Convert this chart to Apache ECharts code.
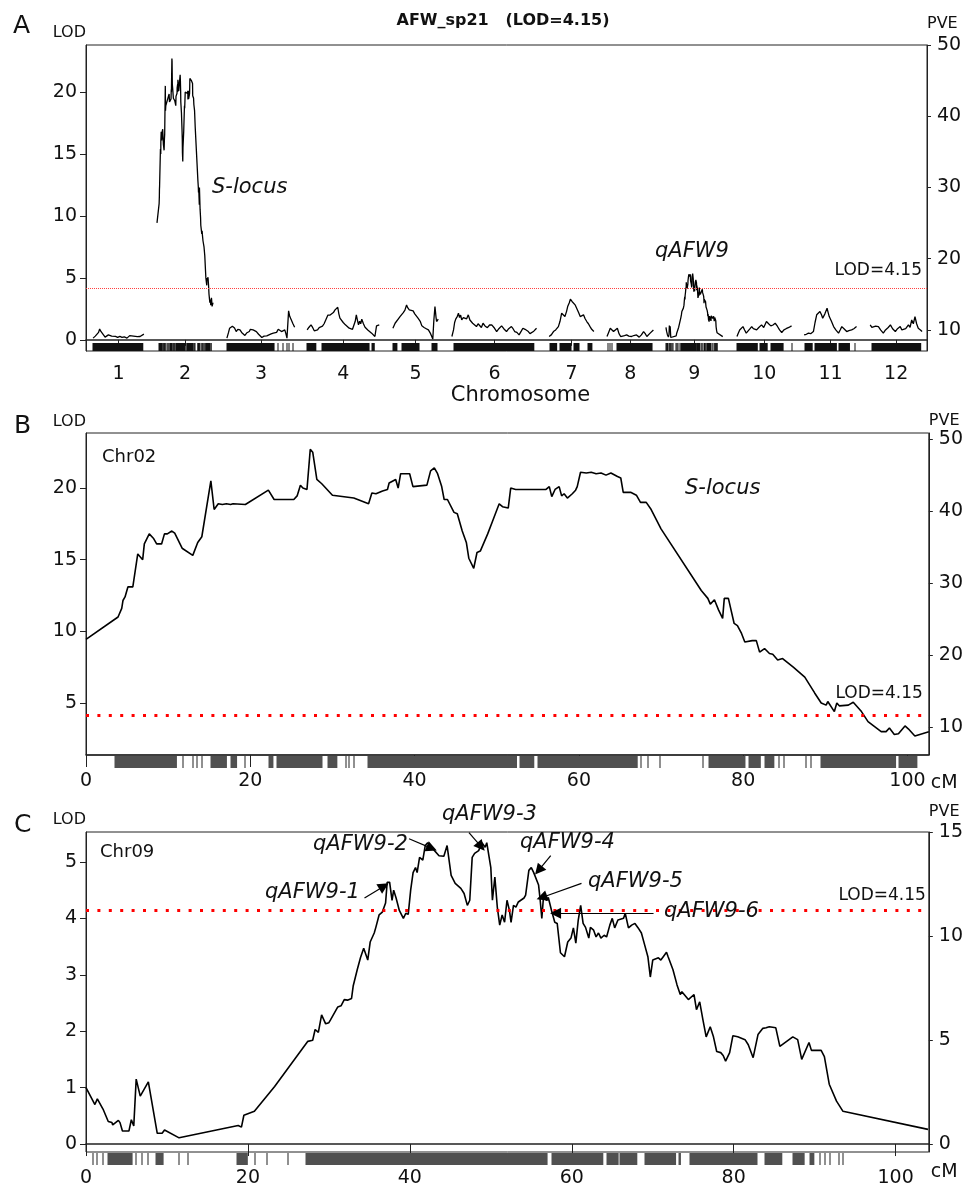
<!DOCTYPE html>
<html>
<head>
<meta charset="utf-8">
<script src="https://cdn.jsdelivr.net/npm/echarts@6/dist/echarts.min.js"></script>
<style>
html, body { margin: 0; background: #fff; }
#main { width: 966px; height: 1188px; }
</style>
</head>
<body>
<div id="main"></div>
<script>
var FONT = 'DejaVu Sans';

// ---------- panel B: Chr02 LOD profile [cM, LOD] ----------
var lodChr02 = [[0,9.44],[3.9,11.0],[4.35,11.6],[4.5,12.15],[4.75,12.4],[5.1,13.1],[5.7,13.1],[6.3,15.4],[6.9,15.0],[7.1,16.1],[7.2,16.2],[7.7,16.8],[8.2,16.5],[8.6,16.1],[9.2,16.1],[9.55,16.8],[9.9,16.8],[10.45,17.0],[10.8,16.85],[11.7,15.8],[13.0,15.3],[13.6,16.2],[14.1,16.6],[15.2,20.5],[15.6,18.5],[16.1,18.9],[16.6,18.85],[17.1,18.9],[17.6,18.85],[17.9,18.9],[19.4,18.85],[22.2,19.85],[22.9,19.2],[25.3,19.2],[25.7,19.45],[26.1,20.2],[26.4,20.0],[26.9,19.9],[27.3,22.7],[27.6,22.5],[28.1,20.6],[28.7,20.3],[30.0,19.5],[32.6,19.3],[34.4,18.9],[34.8,19.65],[35.3,19.6],[36.1,19.8],[36.7,19.9],[36.9,20.35],[37.7,20.6],[38.0,20.0],[38.3,21.0],[39.4,21.0],[39.8,20.1],[41.5,20.2],[41.95,21.2],[42.4,21.4],[42.8,21.0],[43.3,20.1],[43.6,19.2],[44.0,19.2],[44.8,18.3],[45.2,18.2],[45.8,17.0],[46.3,16.2],[46.6,15.1],[47.2,14.4],[47.6,15.5],[48.0,15.6],[48.9,16.8],[49.5,17.7],[50.3,18.9],[50.7,18.7],[51.4,18.6],[51.7,20.0],[52.3,19.9],[56.0,19.9],[56.4,20.1],[56.7,19.4],[57.1,19.9],[57.6,20.1],[57.9,19.45],[58.2,19.6],[58.6,19.3],[59.2,19.6],[59.6,19.85],[59.8,20.1],[60.2,21.1],[60.9,21.05],[61.5,21.1],[62.1,21.0],[62.7,21.05],[63.3,20.9],[63.9,21.05],[64.7,20.8],[65.1,20.7],[65.4,19.7],[66.3,19.7],[67.0,19.5],[67.5,19.0],[68.2,19.0],[68.8,18.5],[70.0,17.15],[74.9,12.85],[75.7,12.3],[76.0,11.9],[76.5,12.2],[77.0,11.5],[77.5,10.9],[77.7,12.3],[78.2,12.3],[78.9,10.55],[79.3,10.4],[79.8,9.85],[80.2,9.25],[81.1,9.35],[81.6,9.35],[82.0,8.55],[82.6,8.8],[83.2,8.45],[83.6,8.4],[84.2,8.0],[84.8,8.1],[86.1,7.5],[87.5,6.8],[88.7,5.7],[89.5,5.0],[90.1,4.85],[90.3,5.1],[91.1,4.4],[91.4,5.0],[91.7,4.8],[92.8,4.85],[93.4,5.05],[94.4,4.4],[95.2,3.7],[96.0,3.35],[96.8,3.0],[97.4,3.0],[97.8,3.25],[98.4,2.8],[98.9,2.85],[99.7,3.4],[100.1,3.2],[100.9,2.7],[102.6,3.0]];

// markers on Chr02 [from cM, to cM]
var rugChr02 = [[3.5,11.1],[11.8,11.8],[13.0,13.0],[13.5,13.5],[14.1,14.1],[15.2,17.2],[17.6,18.4],[19.4,19.4],[22.3,22.9],[23.3,28.9],[29.4,30.6],[31.7,31.7],[32.0,32.0],[32.6,32.6],[34.3,52.5],[52.8,54.6],[55.0,67.2],[67.6,67.6],[68.4,68.4],[69.9,69.9],[75.1,75.1],[75.9,80.4],[80.7,82.2],[82.6,83.8],[84.4,84.4],[85.0,85.0],[87.7,87.7],[88.3,88.3],[89.5,98.7],[99.0,101.3]];

// ---------- panel C: Chr09 LOD profile [cM, LOD] ----------
var lodChr09 = [[0,1.0],[1.1,0.7],[1.4,0.8],[2.1,0.62],[2.75,0.4],[3.2,0.38],[3.3,0.34],[4.0,0.42],[4.2,0.38],[4.5,0.23],[5.3,0.23],[5.6,0.43],[5.9,0.32],[6.2,1.15],[6.7,0.85],[7.7,1.1],[8.8,0.19],[9.4,0.19],[9.7,0.25],[11.5,0.11],[18.8,0.33],[19.2,0.30],[19.5,0.51],[20.8,0.58],[23.3,1.02],[27.4,1.82],[28.0,1.84],[28.3,2.03],[28.7,1.98],[29.1,2.29],[29.2,2.29],[29.6,2.13],[30.0,2.15],[30.2,2.2],[30.4,2.18],[31.1,2.43],[31.5,2.45],[31.9,2.56],[32.3,2.55],[32.8,2.58],[33.0,2.8],[33.5,3.09],[33.9,3.3],[34.3,3.47],[34.4,3.44],[34.8,3.26],[35.1,3.58],[35.2,3.55],[35.6,3.74],[35.8,3.84],[36.2,4.06],[36.6,4.11],[37.0,4.27],[37.2,4.64],[37.5,4.64],[37.8,4.32],[38.0,4.5],[38.3,4.36],[38.7,4.14],[39.2,4.0],[39.5,4.09],[39.8,4.07],[40.1,4.5],[40.4,4.81],[40.7,4.9],[40.9,4.81],[41.2,5.08],[41.3,5.1],[41.6,5.03],[41.9,5.29],[42.2,5.34],[42.8,5.24],[43.6,5.11],[44.2,5.1],[44.6,5.29],[44.8,5.28],[45.1,4.76],[45.6,4.62],[46.3,4.53],[46.7,4.44],[47.1,4.23],[47.4,4.32],[47.7,5.08],[48.0,5.15],[48.5,5.2],[48.9,5.34],[49.3,5.26],[49.5,5.34],[50.0,4.9],[50.2,4.32],[50.5,4.73],[50.8,4.2],[51.1,3.88],[51.4,4.06],[51.7,3.93],[52.0,4.32],[52.3,4.14],[52.5,3.93],[52.8,4.23],[53.1,4.2],[53.4,4.29],[54.1,4.36],[54.3,4.41],[54.7,4.85],[55.0,4.9],[55.3,4.81],[55.5,4.84],[55.9,4.59],[56.1,4.32],[56.3,4.0],[56.5,4.37],[56.9,4.32],[57.1,4.37],[57.5,4.14],[57.9,3.93],[58.2,3.91],[58.6,3.39],[59.1,3.32],[59.5,3.58],[59.9,3.65],[60.2,3.83],[60.5,3.56],[60.8,3.97],[61.1,4.23],[61.4,3.91],[61.7,3.84],[62.1,3.65],[62.3,3.84],[62.7,3.79],[63.0,3.67],[63.3,3.74],[63.6,3.65],[64.0,3.7],[64.3,3.67],[64.7,3.88],[65.0,4.0],[65.3,3.83],[65.7,3.97],[65.9,3.95],[66.4,4.0],[66.6,4.09],[67.0,3.83],[67.4,3.88],[67.8,3.91],[68.2,3.83],[68.6,3.74],[69.0,3.53],[69.4,3.32],[69.7,2.96],[70.0,3.26],[70.2,3.23],[70.7,3.3],[71.0,3.26],[71.3,3.32],[71.7,3.4],[71.9,3.32],[72.5,3.09],[73.0,2.82],[73.4,2.65],[73.6,2.7],[74.4,2.56],[75.1,2.65],[75.4,2.38],[75.8,2.52],[76.2,2.2],[76.6,1.9],[77.1,2.08],[77.5,1.9],[77.9,1.64],[78.4,1.62],[78.7,1.57],[79.0,1.47],[79.5,1.62],[79.9,1.92],[80.5,1.9],[81.4,1.85],[81.8,1.76],[82.4,1.53],[83.0,1.94],[83.6,2.05],[84.0,2.06],[84.4,2.08],[85.2,2.06],[85.7,1.73],[85.9,1.74],[87.3,1.9],[87.9,1.85],[88.4,1.5],[89.3,1.8],[89.6,1.66],[90.8,1.66],[91.2,1.55],[91.8,1.06],[92.7,0.76],[93.5,0.58],[104.0,0.26]];

var rugChr09 = [[0.9,0.9],[1.3,1.3],[2.1,2.1],[2.7,5.8],[6.2,6.2],[6.9,6.9],[7.6,7.6],[8.7,9.7],[11.5,11.5],[12.6,12.6],[18.6,20.0],[20.9,20.9],[22.3,22.3],[24.9,24.9],[27.2,57.1],[57.5,63.9],[64.3,65.8],[66.0,68.2],[69.0,72.9],[73.2,73.5],[74.6,83.0],[83.9,86.1],[87.3,88.8],[89.4,90.0],[90.6,90.6],[91.3,91.3],[91.9,91.9],[93.0,93.0],[93.5,93.5]];

// QTL arrows on Chr09: name, arrow tail [cM, LOD], arrow head [cM, LOD]
var qtlNames = ['qAFW9-1', 'qAFW9-2', 'qAFW9-3', 'qAFW9-4', 'qAFW9-5', 'qAFW9-6'];
var qtlTail = [[34.4, 4.36], [39.9, 5.41], [47.3, 5.52], [57.4, 5.11], [61.2, 4.62], [70.1, 4.09]];
var qtlHead = [[36.8, 4.57], [42.7, 5.24], [48.8, 5.27], [55.9, 4.85], [56.3, 4.37], [58.0, 4.09]];

// ---------- panel A: genome scan ----------
var chrNames = ['1','2','3','4','5','6','7','8','9','10','11','12'];
var chrStart = [13, 130, 258, 405, 562, 670, 848, 954, 1062, 1192, 1315, 1436];
var chrLen = [93, 103, 125, 132, 83, 156, 82, 85, 104, 100, 97, 95];

var lodChr1 = [[0,0.14],[4,0.3],[7,0.45],[10,0.6],[12,0.88],[14,0.7],[16,0.66],[19,0.4],[22,0.22],[25,0.3],[28,0.4],[31,0.25],[34,0.3],[37,0.2],[41,0.28],[45,0.2],[49,0.28],[53,0.2],[57,0.25],[62,0.14],[65,0.25],[67,0.34],[70,0.28],[74,0.3],[77,0.2],[81,0.26],[86,0.27],[89,0.38],[93,0.46]];
var lodChr3 = [[0,0.14],[3,0.6],[5,0.94],[8,0.8],[10,1.1],[12,1.26],[14,0.95],[17,0.67],[20,0.85],[24,0.8],[27,0.6],[30,0.5],[33,0.35],[36,0.55],[38,0.45],[41,0.67],[43,0.85],[45,0.99],[48,0.8],[51,0.75],[54,0.67],[58,0.45],[61,0.3],[64,0.19],[68,0.3],[71,0.25],[73,0.32],[77,0.4],[81,0.48],[85,0.54],[88,0.7],[91,0.6],[94,0.86],[97,0.8],[100,0.67],[103,0.75],[106,0.8],[108,0.5],[110,0.14],[113,2.34],[115,1.9],[117,1.75],[121,1.3],[124,1.02]];
var lodChr4 = [[0,0.8],[3,1.0],[5,0.9],[7,1.21],[10,1.0],[13,0.73],[16,0.85],[19,0.8],[22,0.99],[25,0.96],[28,1.1],[31,1.3],[34,1.6],[36,1.56],[38,2.0],[39,2.15],[42,2.0],[45,2.02],[48,2.2],[51,2.42],[54,2.3],[56,2.63],[58,2.1],[60,1.75],[63,1.6],[66,1.4],[70,1.21],[73,1.1],[77,0.94],[80,0.9],[83,0.85],[85,0.75],[88,1.5],[90,2.02],[92,1.6],[94,1.21],[96,1.5],[98,1.3],[100,1.67],[103,1.3],[106,1.02],[108,1.05],[111,0.8],[114,0.65],[118,0.54],[121,0.45],[124,0.27],[127,1.13],[130,1.2],[132,1.21]];
var lodChr5 = [[0,0.94],[2,0.8],[4,1.34],[7,1.4],[10,1.7],[13,1.88],[16,1.8],[19,2.2],[22,2.4],[25,2.82],[27,2.6],[30,2.42],[33,2.5],[37,2.34],[40,2.1],[43,2.0],[46,1.75],[50,1.5],[53,1.13],[57,1.0],[61,0.9],[65,0.8],[69,0.5],[73,0.06],[75,1.6],[77,2.69],[79,1.8],[80,1.48],[83,1.67]];
var lodChr6 = [[0,0.27],[3,0.8],[5,1.4],[7,1.67],[10,1.9],[12,2.15],[14,1.8],[16,2.0],[18,1.61],[21,1.8],[24,1.88],[27,1.7],[30,2.02],[33,1.6],[35,1.7],[38,1.34],[41,1.2],[45,1.07],[48,1.3],[51,1.21],[54,1.0],[57,1.34],[61,1.1],[65,0.99],[69,1.2],[73,1.21],[77,1.0],[82,0.67],[86,0.9],[91,1.13],[95,0.9],[100,0.67],[104,0.9],[109,1.07],[112,0.9],[115,0.67],[119,0.6],[123,0.4],[127,0.7],[130,0.94],[134,0.85],[137,0.7],[140,0.67],[143,0.5],[146,0.4],[150,0.7],[155,0.94]];
var lodChr7 = [[0,0.27],[4,0.4],[8,0.67],[12,0.8],[17,1.07],[20,1.5],[23,2.15],[26,2.0],[29,1.88],[32,2.3],[34,2.69],[37,3.0],[39,3.28],[42,3.1],[45,2.96],[48,2.8],[51,2.69],[54,2.2],[57,1.88],[60,2.0],[63,2.02],[66,1.7],[69,1.48],[72,1.3],[75,1.07],[78,0.85],[82,0.67]];
var lodChr8 = [[0,0.27],[3,0.6],[6,0.94],[9,0.8],[12,0.67],[15,0.8],[19,0.94],[22,0.5],[25,0.27],[28,0.4],[32,0.35],[36,0.4],[40,0.3],[45,0.27],[49,0.35],[54,0.4],[57,0.3],[59,0.22],[63,0.4],[67,0.67],[70,0.5],[73,0.27],[76,0.4],[79,0.54],[82,0.65],[85,0.8]];
var lodChr10 = [[0,0.27],[2,0.5],[5,0.8],[8,0.9],[11,1.07],[14,0.8],[17,0.54],[20,0.7],[24,0.9],[27,1.07],[30,0.9],[33,0.95],[36,0.8],[40,1.0],[45,1.21],[49,1.0],[54,1.48],[58,1.3],[62,1.13],[66,1.2],[70,1.34],[74,1.1],[78,0.8],[82,0.59],[86,0.8],[90,0.9],[95,1.0],[100,1.13]];
var lodChr11 = [[0,0.4],[4,0.45],[8,0.54],[12,0.5],[17,0.67],[20,1.4],[23,2.02],[26,1.9],[29,2.29],[32,2.0],[34,1.75],[38,2.1],[42,2.55],[44,2.2],[46,1.88],[50,1.5],[54,1.07],[58,0.8],[63,0.54],[66,0.8],[69,1.07],[73,0.9],[78,0.67],[82,0.75],[87,0.8],[91,0.9],[96,1.07]];
var lodChr12 = [[0,1.21],[3,1.0],[6,0.94],[10,1.1],[15,1.07],[19,0.8],[24,0.54],[28,0.8],[33,1.0],[37,1.21],[41,0.9],[46,0.67],[50,0.9],[55,1.07],[58,0.8],[61,0.67],[65,0.9],[70,1.21],[73,1.0],[76,1.61],[79,1.3],[82,1.88],[85,1.3],[88,0.94],[92,0.8],[95,0.67]];

var rugChr1 = [[0,93]];
var rugChr3 = [[0,88],[93,93],[103,103],[110,110],[114,114],[121,121]];
var rugChr4 = [[0,18],[27,115],[119,125]];
var rugChr5 = [[0,9],[16,49],[71,82]];
var rugChr6 = [[4,152]];
var rugChr7 = [[2,16],[20,42],[46,57],[71,80]];
var rugChr8 = [[1,1],[5,5],[9,9],[18,84]];
var rugChr10 = [[0,39],[42,57],[62,86],[100,100]];
var rugChr11 = [[2,17],[20,61],[64,85],[94,94]];
var rugChr12 = [[4,95]];

var lodGenome = [lodChr1, lodChr02, lodChr3, lodChr4, lodChr5, lodChr6, lodChr7, lodChr8, lodChr09, lodChr10, lodChr11, lodChr12];
var rugGenome = [rugChr1, rugChr02, rugChr3, rugChr4, rugChr5, rugChr6, rugChr7, rugChr8, rugChr09, rugChr10, rugChr11, rugChr12];

var threshold = 4.15;

// tick values
var lodTicksA = [0, 5, 10, 15, 20];
var pveTicksA = [10, 20, 30, 40, 50];
var lodTicksB = [5, 10, 15, 20];
var pveTicksB = [10, 20, 30, 40, 50];
var lodTicksC = [0, 1, 2, 3, 4, 5];
var pveTicksC = [0, 5, 10, 15];
var cmTicks = [0, 20, 40, 60, 80, 100];

var chrMid = chrStart.map(function (s, i) { return s + chrLen[i] / 2; });

var chart = echarts.init(document.getElementById('main'));

function numLabel(extra) {
    var o = { color: '#111', fontFamily: FONT, fontSize: 19 };
    for (var k in extra) o[k] = extra[k];
    return o;
}

function leftAxis(grid, min, max, ticks, gap) {
    return {
        type: 'value', gridIndex: grid, position: 'left', min: min, max: max,
        name: 'LOD', nameLocation: 'end', nameGap: gap,
        nameTextStyle: { color: '#111', fontFamily: FONT, fontSize: 16, align: 'right', verticalAlign: 'middle' },
        axisLine: { show: true, lineStyle: { color: '#222', width: 1 } },
        axisTick: { show: true, length: 6, customValues: ticks, lineStyle: { color: '#222' } },
        axisLabel: numLabel({ margin: 9, customValues: ticks }),
        splitLine: { show: false }
    };
}

function rightAxis(grid, min, max, ticks, gap) {
    return {
        type: 'value', gridIndex: grid, position: 'right', min: min, max: max,
        name: 'PVE', nameLocation: 'end', nameGap: gap,
        nameTextStyle: { color: '#111', fontFamily: FONT, fontSize: 16, align: 'left', verticalAlign: 'middle' },
        axisLine: { show: true, lineStyle: { color: '#222', width: 1 } },
        axisTick: { show: true, length: 4, customValues: ticks, lineStyle: { color: '#222' } },
        axisLabel: numLabel({ margin: 10, customValues: ticks }),
        splitLine: { show: false }
    };
}

function cmAxis(grid, max) {
    return {
        type: 'value', gridIndex: grid, min: 0, max: max,
        name: 'cM', nameLocation: 'end', nameGap: 2,
        nameTextStyle: { color: '#111', fontFamily: FONT, fontSize: 19, align: 'left', verticalAlign: 'top', padding: [19, 0, 0, 0] },
        axisLine: { show: true, lineStyle: { color: '#222', width: 1.5 } },
        axisTick: { show: true, length: 12, customValues: cmTicks, lineStyle: { color: '#222' } },
        axisLabel: numLabel({ margin: 17, customValues: cmTicks }),
        splitLine: { show: false }
    };
}

// marker rug drawn as thin rectangles under (or on) the x axis
function rugSeries(xi, yi, data, inside) {
    return {
        type: 'custom', xAxisIndex: xi, yAxisIndex: yi, silent: true, clip: false, z: 1,
        data: data,
        renderItem: function (params, api) {
            var cs = params.coordSys;
            var a = api.value(0), b = api.value(1);
            var x1 = api.coord([a, 0])[0];
            var x2 = api.coord([b, 0])[0];
            var base = cs.y + cs.height;
            var single = (b - a) < 0.01;
            return {
                type: 'rect',
                shape: { x: Math.round(x1) - 0.5, y: inside ? base - 8 : base + 1, width: Math.max(1, x2 - x1), height: inside ? 8 : 12 },
                style: { fill: inside ? '#111' : (single ? '#222' : '#505050') }
            };
        }
    };
}

function thresholdLine(width, dash, color, dist) {
    return {
        silent: true, symbol: 'none',
        data: [{ yAxis: threshold }],
        lineStyle: { color: color, width: width, type: dash },
        label: {
            show: true, position: 'insideEndTop', formatter: 'LOD=4.15', distance: dist,
            color: '#111', fontFamily: FONT, fontSize: 17
        }
    };
}

var series = [];

// panel A lines, one per chromosome
lodGenome.forEach(function (prof, i) {
    var s = {
        type: 'line', xAxisIndex: 0, yAxisIndex: 0, silent: true, z: 3,
        symbol: 'none', showSymbol: false,
        lineStyle: { color: '#000', width: 1.3 },
        data: prof.map(function (p) { return [chrStart[i] + p[0], p[1]]; })
    };
    if (i === 0) s.markLine = thresholdLine(1, [1, 1], '#ff4040', [5, 9]);
    series.push(s);
});

var rugA = [];
rugGenome.forEach(function (r, i) {
    r.forEach(function (p) { rugA.push([chrStart[i] + p[0], chrStart[i] + p[1]]); });
});
series.push(rugSeries(0, 0, rugA, true));

// panel B
series.push({
    type: 'line', xAxisIndex: 1, yAxisIndex: 2, silent: true, z: 3,
    symbol: 'none', showSymbol: false,
    lineStyle: { color: '#000', width: 1.6 },
    data: lodChr02,
    markLine: thresholdLine(3, [3, 8.4], '#ff0000', [6, 13])
});
series.push(rugSeries(1, 2, rugChr02, false));

// panel C
series.push({
    type: 'line', xAxisIndex: 2, yAxisIndex: 4, silent: true, z: 3,
    symbol: 'none', showSymbol: false,
    lineStyle: { color: '#000', width: 1.6 },
    data: lodChr09,
    markLine: thresholdLine(3, [3, 8.4], '#ff0000', [3, 6])
});
series.push(rugSeries(2, 4, rugChr09, false));

// QTL arrows
series.push({
    type: 'line', xAxisIndex: 2, yAxisIndex: 4, silent: true, clip: false, z: 5,
    data: [],
    markLine: {
        silent: true, symbol: ['none', 'triangle'], symbolSize: 11,
        lineStyle: { color: '#000', width: 1.2, type: 'solid' },
        label: { show: false },
        data: qtlNames.map(function (n, i) {
            return [{ coord: qtlTail[i] }, { coord: qtlHead[i] }];
        })
    }
});

function txt(x, y, s, font, align) {
    return {
        type: 'text', x: x, y: y, silent: true, z: 10,
        style: { text: s, fill: '#111', font: font, align: align || 'left', verticalAlign: 'middle' }
    };
}
var ital = 'italic 21px "DejaVu Sans"';
var qtlLabelPos = [[265, 893], [313, 845], [442, 815], [520, 843], [588, 882], [664, 912]];

var graphics = [
    txt(13, 26, 'A', '25px "DejaVu Sans"'),
    txt(14, 426, 'B', '25px "DejaVu Sans"'),
    txt(14, 825, 'C', '25px "DejaVu Sans"'),
    txt(503, 21, 'AFW_sp21   (LOD=4.15)', 'bold 16px "DejaVu Sans"', 'center'),
    txt(212, 188, 'S-locus', ital),
    txt(655, 252, 'qAFW9', ital),
    txt(685, 489, 'S-locus', ital),
    txt(102, 457, 'Chr02', '18px "DejaVu Sans"'),
    txt(100, 852, 'Chr09', '18px "DejaVu Sans"')
];
qtlNames.forEach(function (n, i) {
    graphics.push(txt(qtlLabelPos[i][0], qtlLabelPos[i][1], n, ital));
});

var option = {
    animation: false,
    backgroundColor: '#fff',
    textStyle: { fontFamily: FONT },
    grid: [
        { left: 86, top: 45, width: 841, height: 306, show: true, borderColor: '#222', borderWidth: 1 },
        { left: 86, top: 433, width: 845, height: 322, show: true, borderColor: '#222', borderWidth: 1 },
        { left: 86, top: 832, width: 845, height: 321, show: true, borderColor: '#222', borderWidth: 1 }
    ],
    xAxis: [
        {
            type: 'value', gridIndex: 0, min: 0, max: 1540,
            name: 'Chromosome', nameLocation: 'middle', nameGap: 34,
            nameTextStyle: { color: '#111', fontFamily: FONT, fontSize: 21, padding: [0, 0, 0, 28] },
            axisLine: { show: true, lineStyle: { color: '#222', width: 1.5 } },
            axisTick: { show: true, length: 6, customValues: chrMid, lineStyle: { color: '#222' } },
            axisLabel: numLabel({
                margin: 14, customValues: chrMid,
                formatter: function (v) {
                    var best = 0;
                    chrMid.forEach(function (m, i) { if (Math.abs(m - v) < Math.abs(chrMid[best] - v)) best = i; });
                    return chrNames[best];
                }
            }),
            splitLine: { show: false }
        },
        cmAxis(1, 102.6),
        cmAxis(2, 104.1)
    ],
    yAxis: [
        leftAxis(0, -0.9, 23.8, lodTicksA, 12),
        rightAxis(0, 7.05, 50, pveTicksA, 21),
        leftAxis(1, 1.37, 23.84, lodTicksB, 11),
        rightAxis(1, 6.1, 50.83, pveTicksB, 12),
        leftAxis(2, -0.141, 5.53, lodTicksC, 12),
        rightAxis(2, -0.383, 15, pveTicksC, 20)
    ],
    series: series,
    graphic: graphics
};

chart.setOption(option);
</script>
</body>
</html>
